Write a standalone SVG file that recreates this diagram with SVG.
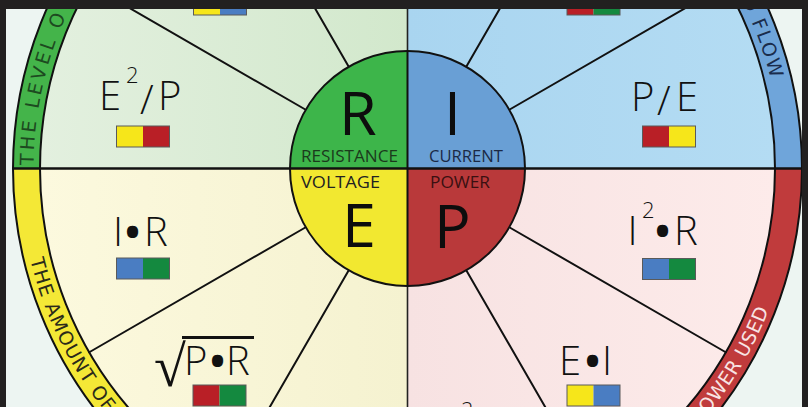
<svg xmlns="http://www.w3.org/2000/svg" width="808" height="407" viewBox="0 0 808 407">
<defs>
<linearGradient id="gTL" x1="0" y1="0" x2="1" y2="0"><stop offset="0" stop-color="#e3f0df"/><stop offset="1" stop-color="#d2e8cc"/></linearGradient>
<linearGradient id="gTR" x1="0" y1="0" x2="1" y2="0"><stop offset="0" stop-color="#a9d5f0"/><stop offset="1" stop-color="#b4dcf3"/></linearGradient>
<linearGradient id="gBL" x1="0" y1="0" x2="1" y2="0"><stop offset="0" stop-color="#fcf9de"/><stop offset="1" stop-color="#f5f2d0"/></linearGradient>
<linearGradient id="gBR" x1="0" y1="0" x2="1" y2="0"><stop offset="0" stop-color="#f7e2e2"/><stop offset="1" stop-color="#fdebea"/></linearGradient>
<path id="ptl" d="M33.5,168.5 A374,374 0 0 1 407.5,-205.5"/>
<path id="ptr" d="M407.5,-205.5 A374,374 0 0 1 781.5,168.5"/>
<path id="pbl" d="M19.5,168.5 A388,388 0 0 0 407.5,556.5"/>
<path id="pbr" d="M407.5,556.5 A388,388 0 0 0 795.5,168.5"/>
</defs>
<style>
.ln{stroke:#111;stroke-width:2;fill:none;stroke-linecap:round}
.edge{stroke:#111;stroke-width:2;fill:none}
.f{font-family:"Open Sans","Liberation Sans",sans-serif;font-weight:350;fill:#111;font-size:40px}
.sup{font-size:22px}
.big{font-family:"Open Sans","Liberation Sans",sans-serif;font-weight:400;font-size:61px;fill:#0d0d0d}
.lab{font-family:"Open Sans","Liberation Sans",sans-serif;font-size:16px}
.ring{font-family:"DejaVu Sans","Liberation Sans",sans-serif;font-size:19px}
.bo{fill:none;stroke:#5a5a5a;stroke-width:1}
.Y{fill:#f6e61a}.Rd{fill:#b91f26}.B{fill:#4a7dc2}.G{fill:#14893f}
</style>
<rect x="0" y="0" width="808" height="407" fill="#edf5f2"/>
<g id="ring">
<path d="M407.5,168.5 L13,168.5 A394.5,394.5 0 0 1 407.5,-226 Z" fill="#44b44a"/>
<path d="M407.5,168.5 L407.5,-226 A394.5,394.5 0 0 1 802,168.5 Z" fill="#6fa5da"/>
<path d="M407.5,168.5 L802,168.5 A394.5,394.5 0 0 1 407.5,563 Z" fill="#c03b3c"/>
<path d="M407.5,168.5 L407.5,563 A394.5,394.5 0 0 1 13,168.5 Z" fill="#f4e836"/>
</g>
<g id="quadrants">
<path d="M407.5,168.5 L40,168.5 A367.5,367.5 0 0 1 407.5,-199 Z" fill="url(#gTL)"/>
<path d="M407.5,168.5 L407.5,-199 A367.5,367.5 0 0 1 775,168.5 Z" fill="url(#gTR)"/>
<path d="M407.5,168.5 L775,168.5 A367.5,367.5 0 0 1 407.5,536 Z" fill="url(#gBR)"/>
<path d="M407.5,168.5 L407.5,536 A367.5,367.5 0 0 1 40,168.5 Z" fill="url(#gBL)"/>
<circle cx="407.5" cy="168.5" r="394.5" class="edge"/>
<circle cx="407.5" cy="168.5" r="367.5" class="edge"/>
</g>
<g id="connectors">
<line class="ln" x1="305.74" y1="109.75" x2="89.24" y2="-15.25"/>
<line class="ln" x1="348.75" y1="66.74" x2="223.75" y2="-149.76"/>
<line class="ln" x1="509.26" y1="109.75" x2="725.76" y2="-15.25"/>
<line class="ln" x1="466.25" y1="66.74" x2="591.25" y2="-149.76"/>
<line class="ln" x1="305.74" y1="227.25" x2="89.24" y2="352.25"/>
<line class="ln" x1="348.75" y1="270.26" x2="223.75" y2="486.76"/>
<line class="ln" x1="509.26" y1="227.25" x2="725.76" y2="352.25"/>
<line class="ln" x1="466.25" y1="270.26" x2="591.25" y2="486.76"/>
<line x1="13" y1="168.5" x2="802" y2="168.5" stroke="#111" stroke-width="2.5"/>
<line x1="407.5" y1="-230" x2="407.5" y2="410" stroke="#222" stroke-width="1.6"/>
</g>
<g id="ring-text">
<text class="ring" fill="#1d4a20" letter-spacing="3"><textPath href="#ptl" startOffset="3.5">THE LEVEL O</textPath></text>
<text class="ring" fill="#1a2c4c" letter-spacing="1.7" text-anchor="end"><textPath href="#ptr" startOffset="498">D FLOW</textPath></text>
<text class="ring" fill="#2a2a1a" letter-spacing="1"><textPath href="#pbl" startOffset="92">THE AMOUNT OF</textPath></text>
<text class="ring" fill="#f8e4e4" letter-spacing="0.5" text-anchor="end"><textPath href="#pbr" startOffset="465">POWER USED</textPath></text>
</g>
<g id="center">
<path d="M407.5,168.5 L290,168.5 A117.5,117.5 0 0 1 407.5,51 Z" fill="#3db54a"/>
<path d="M407.5,168.5 L407.5,51 A117.5,117.5 0 0 1 525,168.5 Z" fill="#699fd5"/>
<path d="M407.5,168.5 L525,168.5 A117.5,117.5 0 0 1 407.5,286 Z" fill="#b9393a"/>
<path d="M407.5,168.5 L407.5,286 A117.5,117.5 0 0 1 290,168.5 Z" fill="#f2e830"/>
<line x1="290" y1="168.5" x2="525" y2="168.5" stroke="#111" stroke-width="2.5"/>
<line x1="407.5" y1="51" x2="407.5" y2="286" stroke="#111" stroke-width="2"/>
<circle cx="407.5" cy="168.5" r="117.5" class="edge" stroke-width="2.5"/>
</g>
<g id="node-R">
<text class="big" x="339" y="135">R</text>
<text class="lab" x="301" y="162" textLength="97" lengthAdjust="spacingAndGlyphs" fill="#1b3a1c">RESISTANCE</text>
</g>
<g id="node-I">
<text class="big" x="452.5" y="135" text-anchor="middle">I</text>
<text class="lab" x="429" y="162" textLength="74" lengthAdjust="spacingAndGlyphs" fill="#1b2a45">CURRENT</text>
</g>
<g id="node-E">
<text class="big" x="342" y="247">E</text>
<text class="lab" x="301" y="188" textLength="79" lengthAdjust="spacingAndGlyphs" fill="#222">VOLTAGE</text>
</g>
<g id="node-P">
<text class="big" x="434" y="248">P</text>
<text class="lab" x="430" y="188" textLength="60" lengthAdjust="spacingAndGlyphs" fill="#3a1011">POWER</text>
</g>
<g id="bar-tl-top"><rect class="Y" x="193.5" y="-6" width="26.5" height="21"/><rect class="B" x="220" y="-6" width="26.5" height="21"/><rect class="bo" x="193.5" y="-6" width="53" height="21"/></g>
<g id="bar-tr-top"><rect class="Rd" x="567" y="-6" width="26.5" height="21"/><rect class="G" x="593.5" y="-6" width="26.5" height="21"/><rect class="bo" x="567" y="-6" width="53" height="21"/></g>
<g id="f-E2P">
<text class="f" y="110"><tspan x="99">E</tspan><tspan class="sup" x="126" y="83">2</tspan><tspan x="140" y="114">/</tspan><tspan x="158" y="110">P</tspan></text>
<rect class="Y" x="116.5" y="126" width="26.5" height="21"/><rect class="Rd" x="143" y="126" width="26.5" height="21"/><rect class="bo" x="116.5" y="126" width="53" height="21"/>
</g>
<g id="f-PE">
<text class="f" y="111"><tspan x="631">P</tspan><tspan x="657" y="115">/</tspan><tspan x="676" y="111">E</tspan></text>
<rect class="Rd" x="642.5" y="126" width="26.5" height="21"/><rect class="Y" x="669" y="126" width="26.5" height="21"/><rect class="bo" x="642.5" y="126" width="53" height="21"/>
</g>
<g id="f-IR">
<text class="f" y="246"><tspan x="113">I</tspan><tspan x="125" font-weight="700">•</tspan><tspan x="144">R</tspan></text>
<rect class="B" x="116.5" y="258" width="26.5" height="21"/><rect class="G" x="143" y="258" width="26.5" height="21"/><rect class="bo" x="116.5" y="258" width="53" height="21"/>
</g>
<g id="f-sqrtPR">
<text x="154" y="386" font-family="Liberation Serif, DejaVu Serif, serif" font-size="58" fill="#111">√</text>
<line x1="182" y1="337.5" x2="254" y2="337.5" stroke="#111" stroke-width="3"/>
<text class="f" y="375"><tspan x="184">P</tspan><tspan x="210" font-weight="700">•</tspan><tspan x="226">R</tspan></text>
<rect class="Rd" x="193" y="385" width="26.5" height="21"/><rect class="G" x="219.5" y="385" width="26.5" height="21"/><rect class="bo" x="193" y="385" width="53" height="21"/>
</g>
<g id="f-I2R">
<text class="f" y="245"><tspan x="627.5">I</tspan><tspan class="sup" x="642" y="218">2</tspan><tspan x="655" y="245" font-weight="700">•</tspan><tspan x="674">R</tspan></text>
<rect class="B" x="642.5" y="258.5" width="26.5" height="21"/><rect class="G" x="669" y="258.5" width="26.5" height="21"/><rect class="bo" x="642.5" y="258.5" width="53" height="21"/>
</g>
<g id="f-EI">
<text class="f" y="375"><tspan x="559">E</tspan><tspan x="585" font-weight="700">•</tspan><tspan x="602">I</tspan></text>
<rect class="Y" x="567" y="385" width="26.5" height="21"/><rect class="B" x="593.5" y="385" width="26.5" height="21"/><rect class="bo" x="567" y="385" width="53" height="21"/>
</g>
<g id="f-bottom">
<text class="f sup" x="461" y="418">2</text>
</g>
<g id="frame" fill="#222020">
<rect x="0" y="0" width="808" height="9"/>
<rect x="0" y="0" width="6" height="407"/>
<rect x="802" y="0" width="6" height="407"/>
</g>
</svg>
